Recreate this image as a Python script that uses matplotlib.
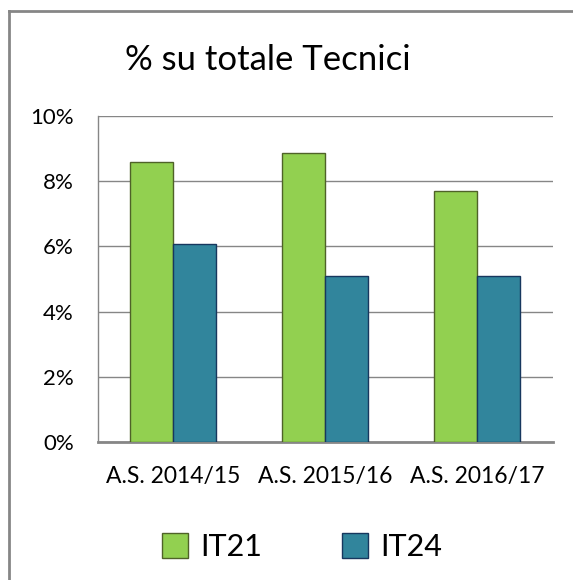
import numpy as np
import matplotlib.pyplot as plt
from matplotlib.lines import Line2D
from matplotlib.patches import Patch
from matplotlib.ticker import FuncFormatter

plt.rcParams['font.family'] = ['Lato', 'DejaVu Sans']

# Data
categories = ["A.S. 2014/15", "A.S. 2015/16", "A.S. 2016/17"]
it21 = [8.58, 8.87, 7.70]
it24 = [6.06, 5.10, 5.08]
series_names = ["IT21", "IT24"]

green = "#92D050"
teal = "#31859C"
grid_gray = "#868686"

W, H = 573, 580
fig = plt.figure(figsize=(W / 100, H / 100), dpi=100)
ax = fig.add_axes([97.5 / W, 1 - 442 / H, (553 - 97.5) / W, (442 - 116) / H])

x = np.arange(len(categories))
w = 0.283
ax.bar(x - w / 2, it21, w, color=green, edgecolor="#4F6228", linewidth=1, zorder=3)
ax.bar(x + w / 2, it24, w, color=teal, edgecolor="#17375E", linewidth=1, zorder=3)

ax.set_xlim(-0.5, 2.5)
ax.set_ylim(0, 10)
ax.set_yticks(np.arange(0, 11, 2))
ax.yaxis.set_major_formatter(FuncFormatter(lambda v, p: f"{v:.0f}%"))
ax.yaxis.grid(True, color=grid_gray, linewidth=1)
ax.set_axisbelow(True)
ax.set_xticks(x)
ax.set_xticklabels(categories)
ax.tick_params(axis="y", length=0, labelsize=16, pad=17)
ax.tick_params(axis="x", length=0, labelsize=16.5, pad=17)
for s in ["top", "right"]:
    ax.spines[s].set_visible(False)
ax.spines["left"].set_color(grid_gray)
ax.spines["left"].set_linewidth(1)
ax.spines["bottom"].set_color(grid_gray)
ax.spines["bottom"].set_linewidth(2)

fig.text(268 / W, 1 - 60 / H, "% su totale Tecnici", ha="center", va="center", fontsize=25)

handles = [Patch(facecolor=green, edgecolor="#4F6228"), Patch(facecolor=teal, edgecolor="#17375E")]
fig.legend(handles, series_names, loc="center", bbox_to_anchor=(302 / W, 1 - 547 / H), ncol=2,
           frameon=False, fontsize=22, handlelength=0.85, handleheight=0.85,
           handletextpad=0.4, columnspacing=2.6)

# chart frame (top and left edges)
fig.add_artist(Line2D([9 / W, 1], [1 - 11 / H, 1 - 11 / H], color=grid_gray, linewidth=2))
fig.add_artist(Line2D([9 / W, 9 / W], [0, 1 - 11 / H], color=grid_gray, linewidth=2))

fig.savefig("out.png", dpi=100)
